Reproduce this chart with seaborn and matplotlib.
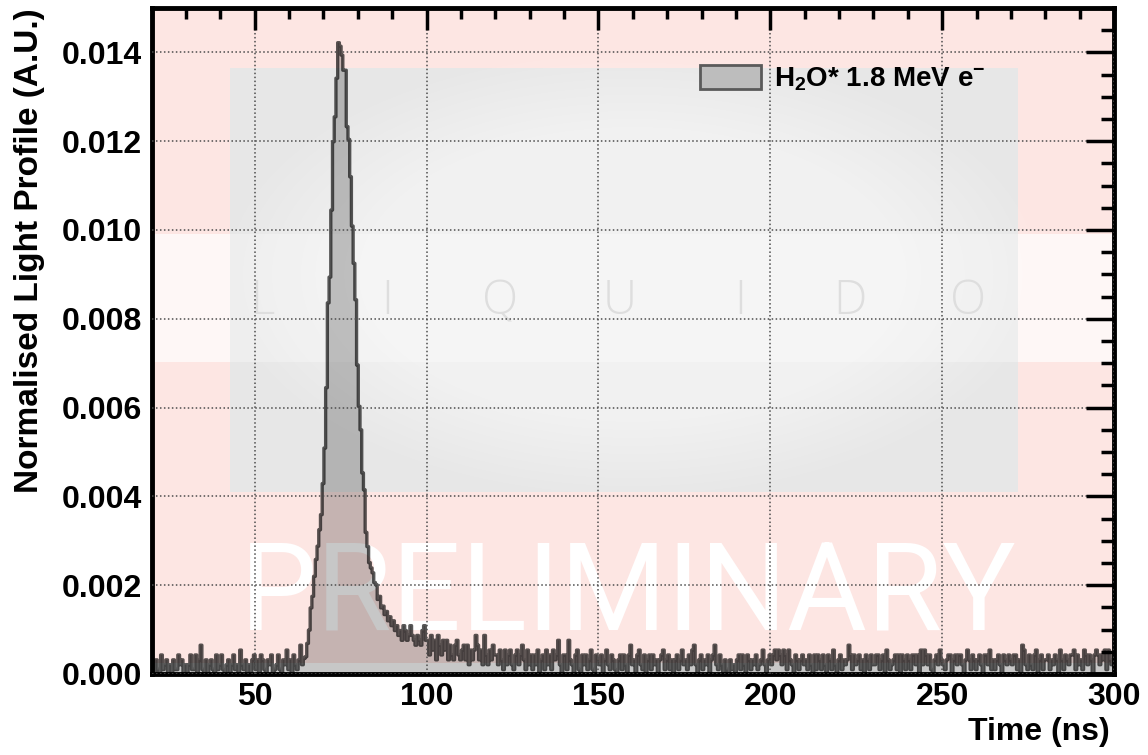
import matplotlib
matplotlib.use("Agg")
import matplotlib.pyplot as plt
import numpy as np
import pandas as pd
import seaborn as sns
from matplotlib.patches import Rectangle, Ellipse, Patch
from matplotlib.ticker import MultipleLocator, FormatStrFormatter

sns.set_theme(style="white")
plt.rcParams["font.family"] = ["Liberation Sans", "DejaVu Sans"]
plt.rcParams["font.weight"] = "bold"
plt.rcParams["text.color"] = "black"
plt.rcParams["axes.labelcolor"] = "black"
plt.rcParams["mathtext.fontset"] = "custom"
plt.rcParams["mathtext.rm"] = "Liberation Sans:bold"
plt.rcParams["mathtext.bf"] = "Liberation Sans:bold"
plt.rcParams["mathtext.it"] = "Liberation Sans:bold"

# histogram: 0.5 ns bins starting at 20 ns, contents in units of 1e-5
t_start = 20.0
bin_width = 0.5
series_label = "H$_{2}$O* 1.8 MeV e$^{-}$"

# 20.0 - 63.5 ns: baseline before the pulse
pre_peak = [
    22, 0, 33, 11, 0, 44, 11, 22,
    33, 0, 22, 0, 33, 11, 11, 44,
    22, 33, 0, 22, 0, 22, 44, 11,
    11, 44, 0, 33, 66, 11, 0, 33,
    0, 22, 33, 11, 0, 44, 11, 22,
    44, 11, 0, 22, 33, 0, 22, 44,
    11, 22, 0, 55, 22, 11, 33, 0,
    22, 0, 33, 44, 11, 33, 0, 44,
    33, 11, 0, 33, 22, 44, 0, 11,
    22, 44, 11, 0, 33, 22, 55, 11,
    33, 0, 44, 22, 11, 33, 66, 22,
]

# 64.0 - 99.5 ns: the pulse
peak = [
    36, 40, 70, 100, 150, 176, 221, 259,
    289, 326, 360, 430, 510, 646, 837, 895,
    1046, 1200, 1256, 1343, 1423, 1415, 1395, 1361,
    1361, 1234, 1205, 1121, 1010, 926, 844, 697,
    604, 551, 454, 416, 320, 288, 252, 240,
    229, 207, 202, 169, 176, 150, 154, 135,
    142, 121, 130, 110, 121, 99, 110, 88,
    99, 77, 110, 99, 77, 88, 110, 88,
    77, 66, 88, 77, 66, 99, 110, 77,
]

# 100.0 - 299.5 ns: tail and baseline
tail = [
    77, 44, 88, 55, 77, 33, 88, 66, 44, 77,
    55, 77, 33, 66, 44, 33, 66, 77, 44, 33,
    55, 66, 33, 66, 22, 55, 33, 55, 88, 66,
    33, 55, 22, 88, 44, 22, 55, 33, 66, 44,
    44, 22, 55, 33, 11, 55, 22, 44, 55, 22,
    11, 44, 55, 22, 44, 66, 33, 11, 55, 22,
    44, 11, 44, 22, 55, 0, 33, 44, 11, 55,
    22, 44, 11, 55, 33, 44, 77, 22, 0, 44,
    44, 11, 77, 33, 22, 0, 44, 55, 11, 0,
    44, 22, 44, 11, 33, 55, 11, 0, 44, 33,
    22, 44, 0, 33, 55, 22, 11, 44, 33, 11,
    0, 33, 44, 11, 44, 22, 0, 44, 66, 22,
    33, 0, 44, 55, 22, 11, 44, 0, 33, 44,
    11, 44, 22, 33, 0, 33, 44, 55, 11, 33,
    44, 11, 33, 0, 33, 44, 11, 33, 55, 22,
    33, 11, 44, 22, 55, 66, 22, 0, 33, 44,
    11, 33, 22, 44, 0, 33, 44, 66, 22, 11,
    44, 22, 0, 33, 11, 0, 33, 11, 22, 0,
    33, 44, 11, 44, 22, 0, 44, 33, 11, 33,
    22, 44, 11, 22, 33, 55, 22, 0, 33, 44,
    22, 44, 55, 33, 55, 44, 22, 55, 44, 11,
    55, 33, 22, 0, 44, 33, 11, 33, 44, 22,
    33, 11, 44, 22, 0, 44, 11, 44, 33, 11,
    44, 22, 0, 44, 33, 11, 55, 22, 0, 33,
    44, 11, 33, 22, 33, 66, 44, 11, 44, 22,
    33, 44, 11, 33, 0, 44, 33, 11, 44, 22,
    22, 44, 44, 11, 33, 44, 0, 55, 33, 11,
    22, 33, 44, 11, 44, 0, 44, 33, 11, 44,
    33, 11, 44, 44, 22, 44, 0, 55, 22, 55,
    44, 22, 44, 11, 0, 33, 44, 22, 55, 33,
    22, 11, 33, 44, 44, 0, 33, 44, 22, 44,
    44, 22, 0, 33, 55, 33, 11, 44, 33, 11,
    33, 44, 22, 0, 44, 44, 22, 55, 11, 33,
    11, 33, 44, 22, 0, 44, 33, 22, 44, 33,
    22, 44, 44, 11, 33, 0, 66, 55, 22, 11,
    44, 22, 11, 44, 55, 0, 33, 44, 11, 33,
    33, 44, 11, 33, 22, 44, 33, 0, 55, 33,
    11, 44, 33, 22, 44, 44, 55, 11, 44, 22,
    33, 11, 55, 44, 22, 44, 33, 0, 44, 55,
    44, 22, 44, 33, 55, 11, 55, 33, 22, 44,
]

light = np.array(pre_peak + peak + tail) * 1e-5
edges = t_start + bin_width * np.arange(len(light) + 1)
df = pd.DataFrame({"Time": edges[:-1] + bin_width / 2, "Light": light})

fig = plt.figure(figsize=(11.48, 7.55), dpi=100)
ax = fig.add_axes([0.1320, 0.1073, 0.8384, 0.8821])
ax.set_facecolor("white")

# watermark behind the histogram
ax.add_patch(Rectangle((0, 0.0165), 1, 0.9835, transform=ax.transAxes,
                       color="#fde6e3", lw=0, zorder=-5))
box = Rectangle((0.0816, 0.2733), 0.8186, 0.6366, transform=ax.transAxes,
                color="#e7e7e7", lw=0, zorder=-4)
ax.add_patch(box)
for k in range(20):
    glow = Ellipse((0.5, 0.6), 0.84 - 0.03 * k, 0.66 - 0.024 * k,
                   transform=ax.transAxes, color="white", alpha=0.07,
                   lw=0, zorder=-3.5)
    glow.set_clip_path(box)
    ax.add_patch(glow)
# light band across the watermark
for x0, w, a in [(0, 0.0816, 0.7), (0.9002, 0.0998, 0.7), (0.0816, 0.8186, 0.3)]:
    ax.add_patch(Rectangle((x0, 0.4685), w, 0.1922, transform=ax.transAxes,
                           color="white", alpha=a, lw=0, zorder=-3.2))
for letter, fx in zip("LIQUIDO", [0.1148, 0.2447, 0.3621, 0.4868, 0.6114, 0.7257, 0.8483]):
    ax.text(fx, 0.5586, letter, transform=ax.transAxes, ha="center", va="center",
            fontsize=34, fontweight="light", color="#dedede", zorder=-3,
            family=["Open Sans", "DejaVu Sans"])
ax.text(0.4956, 0.115, "PRELIMINARY", transform=ax.transAxes, ha="center",
        va="center", fontsize=88, fontweight="normal", color="white", zorder=-2,
        family=["Roboto", "DejaVu Sans"])

sns.histplot(data=df, x="Time", weights="Light", bins=edges.tolist(), element="step",
             fill=True, color="black", facecolor=(0, 0, 0, 0.22),
             edgecolor=(0, 0, 0, 0.65), linewidth=2.4, ax=ax, zorder=2)

ax.set_xlim(20, 300)
ax.set_ylim(0, 0.015)
ax.xaxis.set_major_locator(MultipleLocator(50))
ax.xaxis.set_minor_locator(MultipleLocator(10))
ax.yaxis.set_major_locator(MultipleLocator(0.002))
ax.yaxis.set_minor_locator(MultipleLocator(0.0005))
ax.yaxis.set_major_formatter(FormatStrFormatter("%.3f"))

ax.tick_params(which="both", direction="in", top=True, right=True, width=2.5,
               color="black", labelcolor="black", labelsize=23)
ax.tick_params(axis="x", which="major", length=16, pad=6)
ax.tick_params(axis="x", which="minor", length=8)
ax.tick_params(axis="y", which="major", length=20, pad=7)
ax.tick_params(axis="y", which="minor", length=9.5)
for spine in ax.spines.values():
    spine.set_visible(True)
    spine.set_color("black")
    spine.set_linewidth(3.5)

ax.grid(True, which="major", ls=(0, (1, 1.6)), lw=1.1, color="0.3")
ax.set_axisbelow(False)

ax.set_xlabel("Time (ns)", fontsize=23, fontweight="bold", loc="right")
ax.set_ylabel("Normalised Light Profile (A.U.)", fontsize=24, fontweight="bold", loc="top")
ax.xaxis.set_label_coords(0.996, -0.064)
ax.yaxis.set_label_coords(-0.111, 1.0)

handle = Patch(facecolor="#bdbdbd", edgecolor="#5a5a5a", linewidth=2)
ax.legend([handle], [series_label], loc="upper left", bbox_to_anchor=(0.5699, 0.915),
          frameon=False, prop={"size": 20, "weight": "bold"}, handlelength=2.2,
          handleheight=0.95, handletextpad=0.45, borderpad=0, borderaxespad=0)

fig.savefig("out.png", dpi=100)
